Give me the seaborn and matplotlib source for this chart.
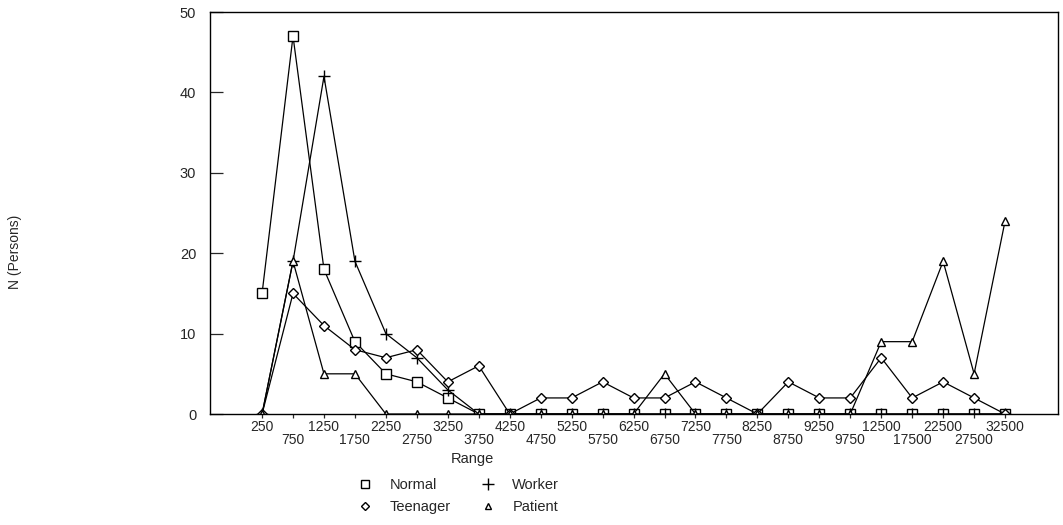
"""
Income range distribution by group, recreated with seaborn.
"""

import matplotlib
matplotlib.use("Agg")
import matplotlib.pyplot as plt
from matplotlib.lines import Line2D
import seaborn as sns
import pandas as pd
import numpy as np

# Data
ranges = ['250', '750', '1250', '1750', '2250', '2750', '3250', '3750',
          '4250', '4750', '5250', '5750', '6250', '6750', '7250', '7750',
          '8250', '8750', '9250', '9750', '12500', '17500', '22500',
          '27500', '32500']
normal = [15, 47, 18, 9, 5, 4, 2, 0, 0, 0, 0, 0, 0, 0, 0, 0,
          0, 0, 0, 0, 0, 0, 0, 0, 0]
worker = [0, 19, 42, 19, 10, 7, 3, 0, 0, 0, 0, 0, 0, 0, 0, 0,
          0, 0, 0, 0, 0, 0, 0, 0, 0]
teenager = [0, 15, 11, 8, 7, 8, 4, 6, 0, 2, 2, 4, 2, 2, 4, 2,
            0, 4, 2, 2, 7, 2, 4, 2, 0]
patient = [0, 19, 5, 5, 0, 0, 0, 0, 0, 0, 0, 0, 0, 5, 0, 0,
           0, 0, 0, 0, 9, 9, 19, 5, 24]

groups = ['Normal', 'Worker', 'Teenager', 'Patient']
series = [normal, worker, teenager, patient]
markers = {'Normal': 's', 'Worker': '+', 'Teenager': 'D', 'Patient': '^'}
msizes = {'Normal': 7, 'Worker': 9, 'Teenager': 5, 'Patient': 6}

pos = np.arange(len(ranges))
df = pd.concat(
    [pd.DataFrame({'pos': pos, 'n': vals, 'group': g})
     for g, vals in zip(groups, series)],
    ignore_index=True,
)

sns.set_style('white')
plt.rcParams['font.family'] = ['Liberation Sans', 'DejaVu Sans']

fig = plt.figure(figsize=(10.63, 5.25), dpi=100)
ax = fig.add_axes([0.1976, 0.2114, 0.7974, 0.7656])

for g in groups:
    sub = df[df['group'] == g]
    sns.lineplot(data=sub, x='pos', y='n', ax=ax, color='black',
                 linewidth=0.9, marker=markers[g], markersize=msizes[g],
                 markerfacecolor='white', markeredgecolor='black',
                 markeredgewidth=1.0, legend=False)

ax.set_xlim(-1.68, 25.7)
ax.set_ylim(0, 50)
ax.set_yticks([0, 10, 20, 30, 40, 50])
ax.tick_params(axis='y', direction='in', length=9, width=0.9,
               labelsize=10.5, pad=10, left=True)

# staggered range labels: even ones on the first row, odd ones below
ax.set_xticks(pos)
ax.set_xticklabels(ranges, fontsize=10)
ax.tick_params(axis='x', direction='out', width=0.9, length=3, pad=1,
               bottom=True)
for i, t in enumerate(ax.xaxis.get_major_ticks()):
    if i % 2:
        t.tick1line.set_markersize(11)
        t.set_pad(11)

for s in ax.spines.values():
    s.set_color('black')
    s.set_linewidth(1.0)

ax.set_ylabel('')
ax.set_xlabel('Range', fontsize=10.5)
ax.xaxis.set_label_coords(0.309, -0.095)

fig.text(0.014, 0.52, 'N (Persons)', rotation=90, ha='center',
         va='center', fontsize=10)

handles = [Line2D([], [], linestyle='none', marker=markers[g],
                  markersize=msizes[g] - 1, markerfacecolor='white',
                  markeredgecolor='black', color='black') for g in groups]
order = [0, 2, 1, 3]
fig.legend([handles[i] for i in order], [groups[i] for i in order],
           loc='center', bbox_to_anchor=(0.428, 0.055), ncol=2,
           frameon=False, fontsize=10.5, columnspacing=1.5,
           handletextpad=0.7, labelspacing=0.55)

fig.savefig('out.png', dpi=100)
